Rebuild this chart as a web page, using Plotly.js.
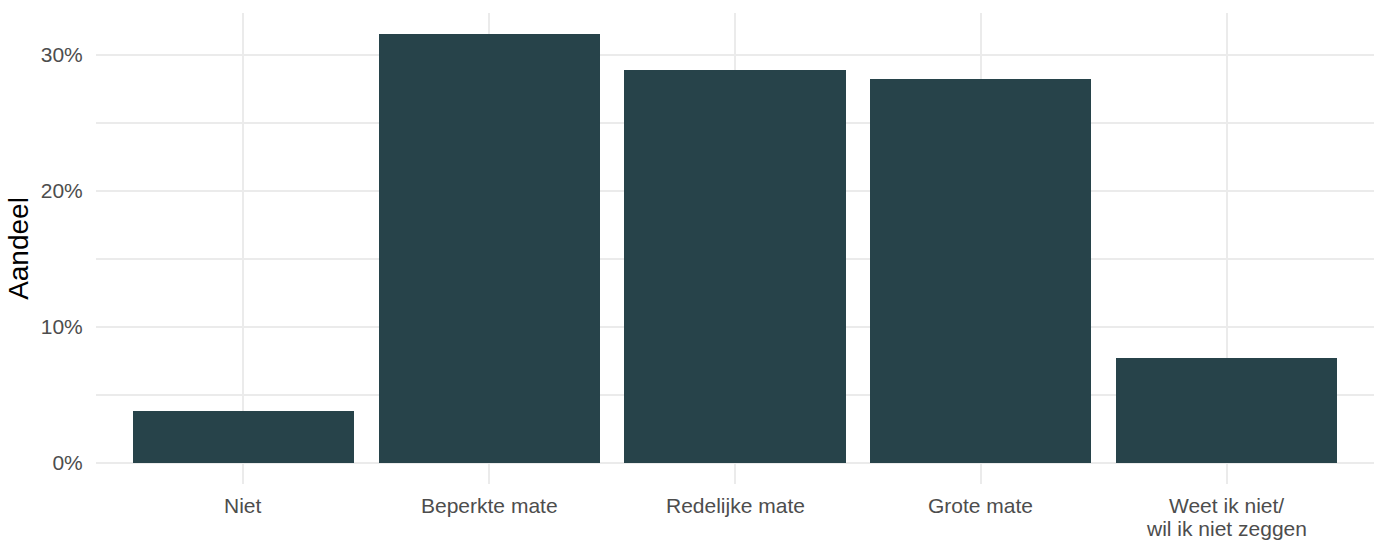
<!DOCTYPE html>
<html>
<head>
<meta charset="utf-8">
<script src="https://cdn.plot.ly/plotly-3.0.1.min.js"></script>
<style>html,body{margin:0;padding:0;background:#fff;}#chart{width:1386px;height:540px;}</style>
</head>
<body>
<div id="chart"></div>
<script>
const categories = ["Niet", "Beperkte mate", "Redelijke mate", "Grote mate", "Weet ik niet/\nwil ik niet zeggen"];
const shares = [3.83, 31.52, 28.93, 28.26, 7.68];
const yTickVals = [0, 10, 20, 30];
const yTickText = ["0%", "10%", "20%", "30%"];

const positions = categories.map((c, i) => i);

const trace = {
  type: 'bar',
  x: positions,
  y: shares,
  width: 0.9,
  marker: {color: '#27434A', line: {width: 0}},
  hoverinfo: 'skip'
};

// x-axis category labels as annotations (to control the line spacing of the two-line label)
const labelFont = {family: '"Liberation Sans", Arial, sans-serif', size: 21, color: '#4d4d4d'};
const annotations = [];
categories.forEach((c, i) => {
  c.split('\n').forEach((line, j) => {
    annotations.push({
      x: positions[i], xref: 'x', y: 0, yref: 'paper',
      text: line, showarrow: false,
      xanchor: 'center', yanchor: 'middle',
      yshift: -21 - 23.5 * j,
      font: labelFont
    });
  });
});

const layout = {
  width: 1386, height: 540,
  margin: {l: 96, r: 12, t: 13, b: 56, pad: 0},
  paper_bgcolor: '#ffffff', plot_bgcolor: '#ffffff',
  font: {family: '"Liberation Sans", Arial, sans-serif', color: '#4d4d4d', size: 21},
  showlegend: false,
  bargap: 0,
  annotations: annotations,
  xaxis: {
    range: [-0.6, 4.6],
    tickvals: positions,
    showticklabels: false,
    showgrid: true, gridcolor: '#ebebeb', gridwidth: 2,
    zeroline: false, showline: false,
    ticks: '',
    fixedrange: true
  },
  yaxis: {
    range: [-1.57, 33.1],
    tickvals: yTickVals,
    ticktext: yTickText,
    showgrid: true, gridcolor: '#ebebeb', gridwidth: 2,
    minor: {tickvals: [5, 15, 25], showgrid: true, gridcolor: '#ebebeb', gridwidth: 1.5, ticks: ''},
    zeroline: false, showline: false,
    ticks: 'outside', ticklen: 8, tickcolor: 'rgba(0,0,0,0)',
    tickfont: {size: 21, color: '#4d4d4d'},
    title: {text: 'Aandeel', font: {size: 28, color: '#000000'}, standoff: 3},
    fixedrange: true
  }
};

Plotly.newPlot('chart', [trace], layout, {displayModeBar: false, staticPlot: true});
</script>
</body>
</html>
